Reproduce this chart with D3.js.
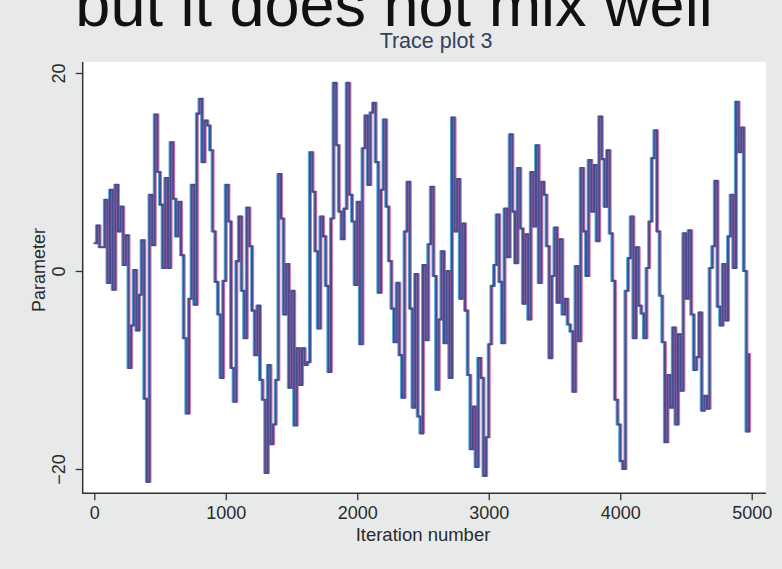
<!DOCTYPE html>
<html>
<head>
<meta charset="utf-8">
<script src="https://cdn.jsdelivr.net/npm/d3@7"></script>
<style>
  html, body { margin: 0; padding: 0; background: #e8eaea; }
  svg { display: block; font-family: "Liberation Sans", Arial, Helvetica, sans-serif; }
</style>
</head>
<body>
<svg id="chart" width="782" height="569"></svg>
<script>
// Text
const slideHeading = "but it does not mix well";
const chartTitle = "Trace plot 3";
const xLabel = "Iteration number";
const yLabel = "Parameter";

// Axis ticks
const xTicks = [0, 1000, 2000, 3000, 4000, 5000];
const yTicks = [-20, 0, 20];

// Sampler output, one stored draw every `thinEvery` iterations
const thinEvery = 20;
const draws = [
  2.8, 4.6, 2.4, 2.4, 7.2, -1.2, 8.2, -1.9, 8.7, 4.0,
  6.5, 0.6, 3.6, -9.8, -5.5, 0.1, -6.0, -2.4, 3.1, -12.9,
  -21.3, 7.7, 2.6, 15.8, 10.0, 6.7, 0.3, 9.4, 0.3, 13.0,
  7.3, 3.5, 7.0, 1.6, -6.8, -14.4, -2.8, 8.7, -3.4, 15.9,
  17.4, 11.0, 15.2, 14.7, 12.2, 4.0, -1.1, -4.4, -10.8, -1.0,
  8.7, 5.0, -9.8, -13.2, 1.0, 5.5, -2.0, -6.8, 6.4, 2.5,
  -4.0, -8.5, -3.5, -11.0, -13.0, -20.4, -9.5, -17.5, -15.5, -11.0,
  9.8, 5.3, -4.4, 0.7, -11.8, -2.0, -15.6, -7.8, -11.5, -7.8,
  -9.5, -9.2, 12.0, 8.0, 2.0, -5.8, 5.5, 3.5, -1.5, -10.2,
  5.3, 19.0, 12.7, 6.0, 3.2, 6.3, 19.0, 7.7, 5.0, -1.4,
  7.0, -7.4, 12.4, 15.7, 8.7, 16.0, 17.0, 11.0, -2.2, 8.2,
  15.3, 6.5, 1.0, -3.8, -7.2, -1.2, -8.5, -12.8, 4.0, 9.0,
  -3.8, -13.8, -0.3, -14.7, -16.4, 0.6, -7.0, 2.7, 8.5, -0.5,
  -12.0, -4.9, 2.0, -7.3, 0.0, -10.8, 15.5, 4.0, 9.3, -2.8,
  4.8, -4.0, -10.5, -18.0, -13.7, -19.8, -8.8, -10.8, -20.7, -16.8,
  -7.4, -1.5, 0.6, 5.7, -1.1, -7.3, 6.3, 1.4, 13.8, 6.0,
  0.8, 10.4, 4.3, -3.3, 3.7, -4.9, 10.0, 4.5, 12.7, -1.2,
  9.0, 7.7, 2.5, -8.8, -0.5, 4.4, -3.2, 3.2, -4.4, -2.8,
  -5.4, -6.1, -12.2, 0.5, -7.1, 10.4, 4.0, -0.5, 11.2, 6.0,
  10.7, 3.0, 15.6, 11.3, 6.5, 12.2, 3.8, -1.0, -13.0, -15.5,
  -19.2, -20.0, -2.0, 1.3, 5.5, -6.8, 2.4, -3.5, -4.3, -6.8,
  0.3, 5.0, 11.4, 14.2, 4.0, -2.5, -7.2, -17.3, -10.5, -13.8,
  -5.7, -15.5, -6.4, -12.1, 3.8, -2.8, 4.1, -4.4, -10.0, -8.7,
  -4.2, -14.1, -12.6, -13.9, 0.3, 2.5, 9.1, -3.6, -5.5, 0.7,
  -5.0, 3.5, 7.7, 0.3, 17.1, 12.0, 14.5, 0.0, -16.2, -8.3
];

const svg = d3.select("#chart");
const W = 782, H = 569;

// Slide background and plot panel
svg.append("rect").attr("width", W).attr("height", H).attr("fill", "#e8eaea");
const panel = { left: 83, right: 766, top: 62, bottom: 493 };
svg.append("rect")
  .attr("x", panel.left).attr("y", panel.top)
  .attr("width", panel.right - panel.left).attr("height", panel.bottom - panel.top)
  .attr("fill", "#ffffff");

// Slide heading, running off the top edge
svg.append("text")
  .attr("x", 394).attr("y", 26)
  .attr("text-anchor", "middle")
  .attr("font-size", 63)
  .attr("fill", "#111")
  .text(slideHeading);

// Chart title
svg.append("text")
  .attr("x", 436).attr("y", 48)
  .attr("text-anchor", "middle")
  .attr("font-size", 21.5)
  .attr("fill", "#34405c")
  .text(chartTitle);

// Scales
const x = d3.scaleLinear().domain([0, 5000]).range([94.3, 751.7]);
const y = d3.scaleLinear().domain([-20, 20]).range([469, 73]);

// Trace line (step: the chain holds its value until the next accepted move)
const line = d3.line()
  .x((d, i) => x(i * thinEvery))
  .y(d => y(d))
  .curve(d3.curveStepAfter);

const traceG = svg.append("g");
traceG.append("path").datum(draws)
  .attr("d", line).attr("transform", "translate(-1.3,0)")
  .attr("fill", "none").attr("stroke", "#2f9fd2").attr("stroke-width", 1.5).attr("opacity", 0.8);
traceG.append("path").datum(draws)
  .attr("d", line).attr("transform", "translate(1.3,0)")
  .attr("fill", "none").attr("stroke", "#d04c86").attr("stroke-width", 1.5).attr("opacity", 0.75);
traceG.append("path").datum(draws)
  .attr("d", line)
  .attr("fill", "none").attr("stroke", "#484d92").attr("stroke-width", 2.1);

// Axes
const axisColor = "#333";
const yAxisX = 82.7, xAxisY = 493.3;

const yAxis = svg.append("g")
  .attr("transform", `translate(${yAxisX},0)`)
  .call(d3.axisLeft(y).tickValues(yTicks).tickSize(7).tickFormat(d3.format("d")));
yAxis.select(".domain").remove();
yAxis.selectAll(".tick line").attr("stroke", axisColor).attr("stroke-width", 1.3);
yAxis.selectAll(".tick text")
  .attr("transform", "rotate(-90)")
  .attr("x", 0).attr("y", -17.5).attr("dy", 0)
  .attr("text-anchor", "middle")
  .attr("font-size", 18).attr("fill", "#2a2a2a")
  .text(d => d < 0 ? "\u2212" + Math.abs(d) : d);

const xAxis = svg.append("g")
  .attr("transform", `translate(0,${xAxisY})`)
  .call(d3.axisBottom(x).tickValues(xTicks).tickSize(7).tickFormat(d3.format("d")));
xAxis.select(".domain").remove();
xAxis.selectAll(".tick line").attr("stroke", axisColor).attr("stroke-width", 1.3);
xAxis.selectAll(".tick text")
  .attr("y", 26).attr("dy", 0)
  .attr("font-size", 18).attr("fill", "#2a2a2a");

svg.append("line")
  .attr("x1", yAxisX).attr("x2", yAxisX).attr("y1", panel.top).attr("y2", xAxisY + 0.7)
  .attr("stroke", axisColor).attr("stroke-width", 1.5);
svg.append("line")
  .attr("x1", yAxisX - 0.7).attr("x2", panel.right).attr("y1", xAxisY).attr("y2", xAxisY)
  .attr("stroke", axisColor).attr("stroke-width", 1.5);

// Axis titles
svg.append("text")
  .attr("transform", "translate(45,270) rotate(-90)")
  .attr("text-anchor", "middle")
  .attr("font-size", 18).attr("fill", "#2a2a2a")
  .text(yLabel);

svg.append("text")
  .attr("x", 423).attr("y", 541)
  .attr("text-anchor", "middle")
  .attr("font-size", 18.5).attr("fill", "#2a2a2a")
  .text(xLabel);
</script>
</body>
</html>
